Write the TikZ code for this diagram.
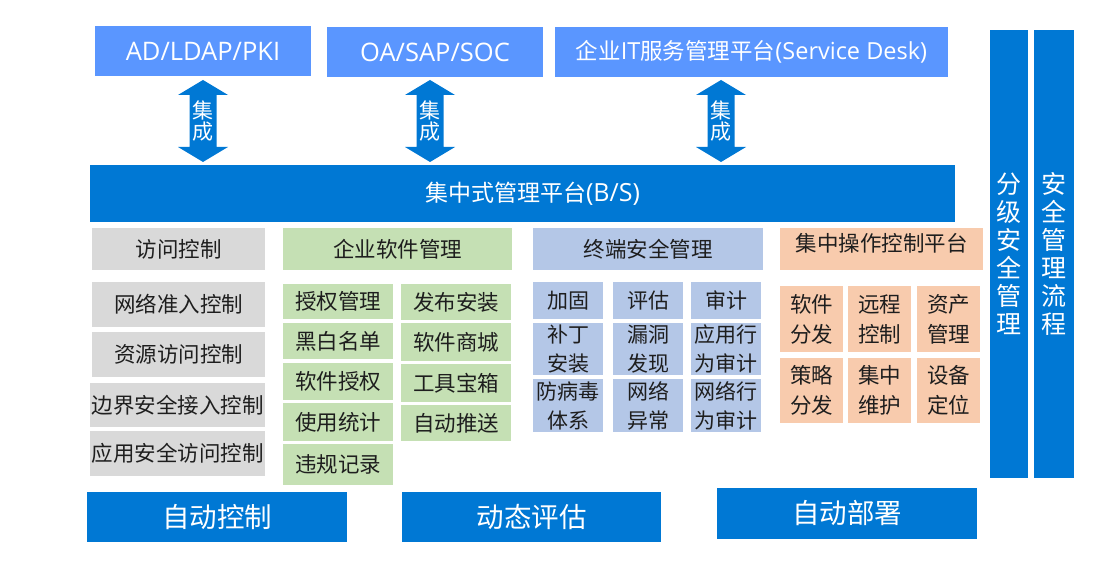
\documentclass[tikz,border=0pt]{standalone}
\usepackage{fontspec}
\setmainfont{Noto Sans CJK SC}
\newfontfamily\lat{Open Sans}
\definecolor{topblue}{RGB}{90,150,255}
\definecolor{dkblue}{RGB}{0,120,212}
\definecolor{grayc}{RGB}{217,217,217}
\definecolor{greenc}{RGB}{197,224,180}
\definecolor{bluec}{RGB}{180,199,231}
\definecolor{orangec}{RGB}{248,203,173}
\definecolor{txt}{RGB}{30,30,30}
\tikzset{
  box/.style={inner sep=0pt, outer sep=0pt, align=center},
  topbox/.style={box, fill=topblue, text=white, font=\fontsize{22.5}{26}\selectfont},
  midbar/.style={box, fill=dkblue, text=white, font=\fontsize{23}{26}\selectfont},
  botbar/.style={box, fill=dkblue, text=white, font=\fontsize{27.5}{30}\selectfont},
  vbar/.style={box, fill=dkblue, text=white, font=\fontsize{25}{28}\selectfont},
  grayb/.style={box, fill=grayc, text=txt, font=\fontsize{21.5}{29}\selectfont},
  greenb/.style={box, fill=greenc, text=txt, font=\fontsize{21.5}{29}\selectfont},
  blueb/.style={box, fill=bluec, text=txt, font=\fontsize{21}{29}\selectfont},
  orangeb/.style={box, fill=orangec, text=txt, font=\fontsize{21.5}{30}\selectfont},
  integarrow/.style={fill=dkblue},
  integlabel/.style={text=white, align=center, inner sep=0pt, font=\fontsize{21}{19}\selectfont}
}
\newcommand\rbox[7]{\node[#6, minimum width={#4pt-#2pt}, minimum height={#5pt-#3pt}] (#1) at ({(#2+#4)/2},{(#3+#5)/2}) {#7};}
\newcommand\integ[2]{%
  \fill[integarrow] (#1,80) -- (#1+25,95) -- (#1+13.5,95) -- (#1+13.5,147) -- (#1+25,147) -- (#1,162)
     -- (#1-25,147) -- (#1-13.5,147) -- (#1-13.5,95) -- (#1-25,95) -- cycle;
  \node[integlabel] (#2) at (#1,121) {集\\成};}
\begin{document}
\begin{tikzpicture}[x=1pt,y=-1pt]
\useasboundingbox (0,0) rectangle (1109,577);
% top systems
\rbox{ad}{95}{26}{311}{76}{topbox}{\fontsize{25.5}{26}\lat AD/LDAP/PKI}
\rbox{oa}{327}{27}{543}{77}{topbox}{\fontsize{25.5}{26}\lat OA/SAP/SOC}
\rbox{sd}{555}{27}{948}{77}{topbox}{企业{\fontsize{23.5}{26}\lat IT}服务管理平台{\fontsize{23.5}{26}\lat (Service Desk)}}
% central bar
\rbox{bar}{90}{165}{955}{222}{midbar}{\hspace*{20pt}集中式管理平台{\fontsize{25}{26}\lat (B/S)}}
% integration arrows
\integ{203}{i1}
\integ{430}{i2}
\integ{721}{i3}
% right columns
\rbox{c1}{990}{30}{1028}{478}{vbar}{分\\级\\安\\全\\管\\理}
\rbox{c2}{1034}{30}{1074}{478}{vbar}{安\\全\\管\\理\\流\\程}
% access control
\rbox{g0}{92}{228}{265}{270}{grayb}{访问控制}
\rbox{g1}{92}{282}{265}{327}{grayb}{网络准入控制}
\rbox{g2}{92}{332}{265}{377}{grayb}{资源访问控制}
\rbox{g3}{90}{383}{265}{427}{grayb}{边界安全接入控制}
\rbox{g4}{90}{431}{265}{476}{grayb}{应用安全访问控制}
% software management
\rbox{s0}{283}{228}{512}{270}{greenb}{企业软件管理}
\rbox{s1}{283}{284}{393}{319}{greenb}{授权管理}
\rbox{s2}{283}{323}{393}{359}{greenb}{黑白名单}
\rbox{s3}{283}{363}{393}{400}{greenb}{软件授权}
\rbox{s4}{283}{403}{393}{441}{greenb}{使用统计}
\rbox{s5}{283}{444}{393}{485}{greenb}{违规记录}
\rbox{s6}{401}{284}{511}{320}{greenb}{发布安装}
\rbox{s7}{401}{323}{511}{361}{greenb}{软件商城}
\rbox{s8}{401}{364}{511}{402}{greenb}{工具宝箱}
\rbox{s9}{401}{405}{511}{441}{greenb}{自动推送}
% terminal security
\rbox{t0}{533}{228}{763}{270}{blueb}{\fontsize{21.5}{29}\selectfont 终端安全管理}
\rbox{t1}{533}{282}{603}{319}{blueb}{加固}
\rbox{t2}{613}{282}{683}{319}{blueb}{评估}
\rbox{t3}{691}{282}{761}{319}{blueb}{审计}
\rbox{t4}{533}{323}{603}{375}{blueb}{补丁\\安装}
\rbox{t5}{613}{323}{683}{375}{blueb}{漏洞\\发现}
\rbox{t6}{691}{323}{761}{375}{blueb}{应用行\\为审计}
\rbox{t7}{533}{379}{603}{432}{blueb}{防病毒\\体系}
\rbox{t8}{613}{379}{683}{432}{blueb}{网络\\异常}
\rbox{t9}{691}{379}{761}{432}{blueb}{网络行\\为审计}
% central operation platform
\rbox{o0}{780}{228}{983}{270}{orangeb}{\raisebox{4pt}[0.8em][0.2em]{集中操作控制平台}}
\rbox{o1}{780}{286}{843}{352}{orangeb}{软件\\分发}
\rbox{o2}{848}{286}{911}{352}{orangeb}{远程\\控制}
\rbox{o3}{917}{286}{980}{352}{orangeb}{资产\\管理}
\rbox{o4}{780}{358}{843}{423}{orangeb}{策略\\分发}
\rbox{o5}{848}{358}{911}{423}{orangeb}{集中\\维护}
\rbox{o6}{917}{358}{980}{423}{orangeb}{设备\\定位}
% bottom bars
\rbox{b1}{87}{492}{347}{542}{botbar}{自动控制}
\rbox{b2}{402}{492}{661}{542}{botbar}{动态评估}
\rbox{b3}{717}{488}{977}{539}{botbar}{自动部署}
\end{tikzpicture}
\end{document}
